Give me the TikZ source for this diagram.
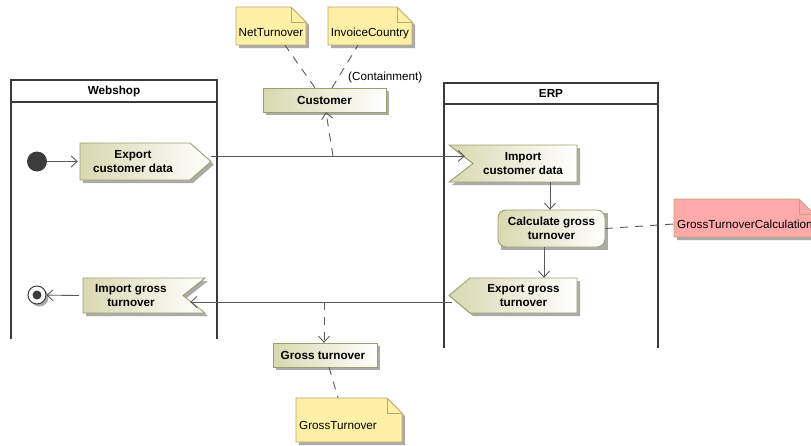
\documentclass[tikz,border=0pt]{standalone}
\usepackage{fontspec}
\setmainfont{Liberation Sans}
\usetikzlibrary{arrows.meta,calc}

\definecolor{actL}{HTML}{D8D8B0}
\definecolor{actB}{HTML}{9E9E6C}
\definecolor{noteF}{HTML}{FFF0A8}
\definecolor{noteB}{HTML}{BFA66A}
\definecolor{redF}{HTML}{FFAAAA}
\definecolor{shadowC}{HTML}{ABABAB}
\definecolor{lineC}{HTML}{5A5A5A}
\definecolor{poolC}{HTML}{3A3A3A}
\definecolor{dotC}{HTML}{3C3C3C}

% shape with drop shadow: #1 style, #2 path
\newcommand\umlshape[2]{%
  \fill[shadowC, shift={(3,3)}] #2;
  \path[#1] #2;}
% note with folded corner: #1 fill, #2..#5 = x1,y1,x2,y2
\newcommand\umlnote[5]{%
  \fill[shadowC, shift={(3,3)}] (#2,#3) -- ({#4-15},#3) -- (#4,{#3+15}) -- (#4,#5) -- (#2,#5) -- cycle;
  \filldraw[fill=#1, draw=noteB, line width=0.9pt] (#2,#3) -- ({#4-15},#3) -- (#4,{#3+15}) -- (#4,#5) -- (#2,#5) -- cycle;
  \draw[noteB, line width=0.9pt] ({#4-15},#3) -- ({#4-15},{#3+15}) -- (#4,{#3+15});}

\tikzset{
  txt/.style={font=\fontsize{11.7}{13.5}\selectfont, inner sep=0pt},
  btxt/.style={font=\fontsize{11.7}{13.5}\selectfont\bfseries, align=center, inner sep=0pt},
  act/.style={draw=actB, line width=0.9pt, left color=actL, right color=white},
  pool/.style={draw=poolC, line width=1.6pt},
  flow/.style={draw=lineC, line width=0.9pt, -{Straight Barb[length=6pt,width=11pt]}},
  dep/.style={draw=lineC, line width=0.9pt, dash pattern=on 8pt off 7pt},
  deparrow/.style={dep, -{Straight Barb[length=6pt,width=11pt]}},
}

\begin{document}
\begin{tikzpicture}[x=1pt,y=-1pt]
\useasboundingbox (0,0) rectangle (811,445);

% swimlanes
\draw[pool] (11,102) -- (11,339);
\draw[pool] (217,102) -- (217,339);
\draw[pool, fill=white] (11,80) rectangle (217,102);
\draw[pool] (444,104) -- (444,348);
\draw[pool] (658,104) -- (658,348);
\draw[pool, fill=white] (444,83) rectangle (658,104);
\node[btxt] (webshop) at (114,91) {Webshop};
\node[btxt] (erp) at (551,93.5) {ERP};

% notes
\umlnote{noteF}{236}{7}{306}{45}
\umlnote{noteF}{328}{7}{412}{45}
\umlnote{noteF}{296}{398}{402}{442}
\umlnote{redF}{674}{199}{814}{237}

% object nodes
\umlshape{act}{(263,88) rectangle (386,112)}
\umlshape{act}{(273,343) rectangle (377,367)}

% actions
\umlshape{act}{(80,143) -- (190,143) -- (211,161.5) -- (190,180) -- (80,180) -- cycle}
\umlshape{act}{(449,145) -- (577,145) -- (577,182) -- (449,182) -- (473,163.5) -- cycle}
\umlshape{act, rounded corners=8pt}{(498,210) rectangle (605,247)}
\umlshape{act}{(470,278) -- (577,278) -- (577,313) -- (470,313) -- (449,295.5) -- cycle}
\umlshape{act}{(83,278) -- (205,278) -- (183,295.5) -- (205,313) -- (83,313) -- cycle}

% initial and final nodes
\node[circle, fill=dotC, minimum size=20pt, inner sep=0pt] (init) at (37,161.5) {};
\fill[shadowC] (39.5,297.5) circle[radius=9];
\node[circle, draw=poolC, fill=white, line width=1pt, minimum size=18pt, inner sep=0pt] (final) at (37,295) {};
\fill[dotC] (final.center) circle[radius=4.5];

% texts
\node[btxt, minimum width=123pt, minimum height=24pt] (customer) at (324.5,100) {Customer};
\node[btxt, minimum width=104pt, minimum height=24pt] (grossobj) at (323,355) {Gross turnover};
\node[btxt, minimum width=110pt, minimum height=37pt] (expcd) at (133,161.5) {Export\\customer data};
\node[btxt, minimum width=104pt, minimum height=37pt] (impcd) at (523,163.5) {Import\\customer data};
\node[btxt, minimum width=107pt, minimum height=37pt] (calc) at (551.5,228.5) {Calculate gross\\turnover};
\node[btxt, minimum width=107pt, minimum height=35pt] (expgt) at (523.5,295.5) {Export gross\\turnover};
\node[btxt, minimum width=100pt, minimum height=35pt] (impgt) at (131,295.5) {Import gross\\turnover};

\node[txt, minimum width=70pt, minimum height=24pt] (netnote) at (271,33) {NetTurnover};
\node[txt, minimum width=84pt, minimum height=24pt] (invnote) at (370,33) {InvoiceCountry};
\node[txt, minimum height=54pt] (gtnote) at (338,425) {GrossTurnover};
\node[txt, anchor=west, inner xsep=3pt] (rednote) at (674,224) {GrossTurnoverCalculation};
\node[txt, anchor=west] (contain) at (348,77) {(Containment)};

% control and object flows
\draw[flow] (init) -- (expcd.west|-init);
\draw[flow] ([shift={(23,-5.5)}]expcd.east) -- ([shift={(-6,-7.5)}]impcd.west);
\draw[flow] ([shift={(27,0)}]impcd.south) -- ([shift={(-1.5,0)}]calc.north);
\draw[flow] ([shift={(-7.5,0)}]calc.south) -- ([shift={(20.5,0)}]expgt.north);
\draw[flow] ([shift={(-18,6.5)}]expgt.west) -- ([shift={(9,6.5)}]impgt.east);
\draw[flow] ([shift={(-2,0)}]impgt.west) -- (final);

% dependencies
\coordinate (onflowA) at (333,156);
\coordinate (onflowB) at (324,302);
\draw[deparrow] (onflowA) -- ([shift={(1.5,0)}]customer.south);
\draw[deparrow] (onflowB) -- ([shift={(1,0)}]grossobj.north);
\draw[dep] ([shift={(-9.5,0)}]customer.north) -- ([shift={(14,0)}]netnote.south);
\draw[dep] ([shift={(7.5,0)}]customer.north) -- ([shift={(-12,0)}]invnote.south);
\draw[dep] ([shift={(6,0)}]grossobj.south) -- (gtnote.north);
\draw[dep] (calc.east) -- (rednote.west);
\end{tikzpicture}
\end{document}
